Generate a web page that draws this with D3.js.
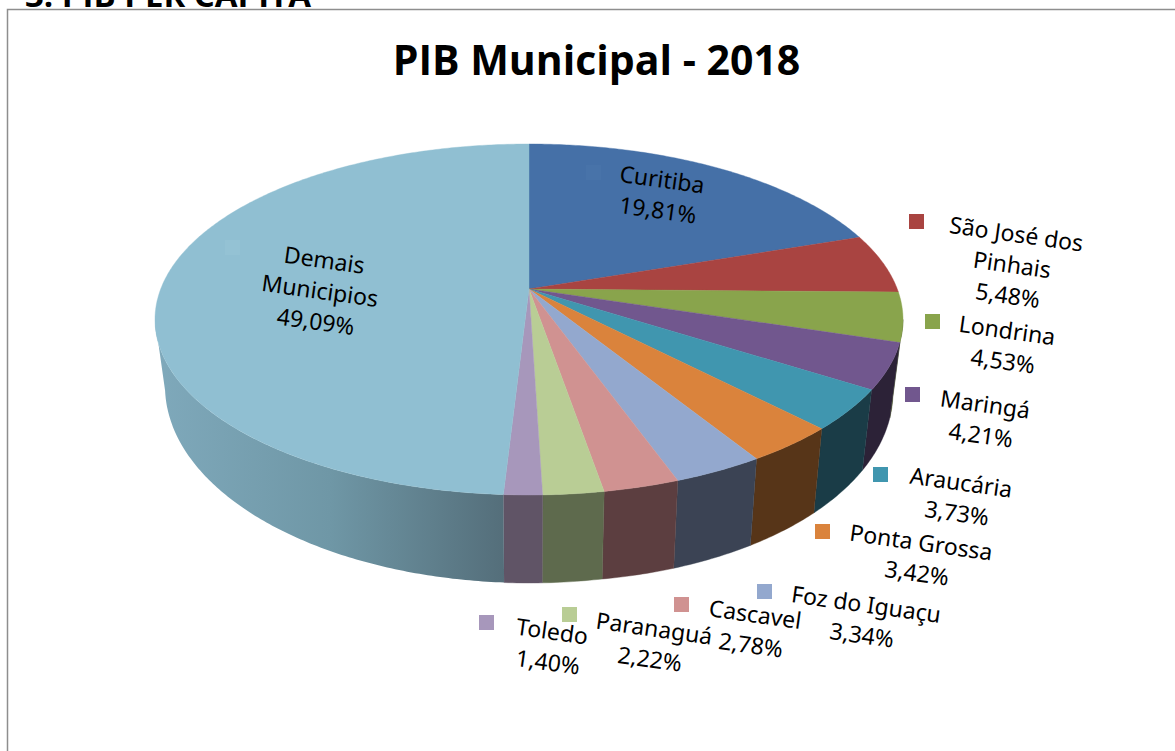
<!DOCTYPE html>
<html><head><meta charset="utf-8">
<script src="https://cdn.jsdelivr.net/npm/d3@7"></script>
<style>html,body{margin:0;padding:0;background:#fff;overflow:hidden}svg{display:block}</style>
</head><body><svg id="c" width="1175" height="751"></svg>
<script>
const categories = ["Curitiba","São José dos Pinhais","Londrina","Maringá","Araucária","Ponta Grossa","Foz do Iguaçu","Cascavel","Paranaguá","Toledo","Demais Municipios"];
const values = [19.81,5.48,4.53,4.21,3.73,3.42,3.34,2.78,2.22,1.40,49.09];
const labelLines = [["Curitiba"],["São José dos","Pinhais"],["Londrina"],["Maringá"],["Araucária"],["Ponta Grossa"],["Foz do Iguaçu"],["Cascavel"],["Paranaguá"],["Toledo"],["Demais","Municipios"]];
const topColors = ["#4570a7","#a94441","#89a44c","#71578e","#4096af","#da833c","#93a8ce","#d09291","#b9cd95","#a797bb","#90bfd2"];
const keyColors = ["#4873a9","#a94441","#89a44c","#71578e","#4096af","#da833c","#93a8ce","#d09291","#b9cd95","#a797bb","#94c2d4"];
const sideColors = ["#22384f","#552220","#445226","#2c2237","#1a3c47","#573518","#3b4354","#5c3e40","#5e6a4d","#605466","#6f95a5"];
const labelCenters = [[660,195],[1012,265],[1005,346],[983,420],[959,498],[919,558],[864,620],[753,630],[652,644],[550,647],[320,291]];
const keyBoxes = [[586,165],[909,214],[925,314],[905,387],[873,467],[815,524],[757,584],[674,597],[562,607],[479,615],[225,240]];

const svg = d3.select("#c");
const font = "'Noto Sans','Open Sans',sans-serif";
const defs = svg.append("defs");
const grad = defs.append("linearGradient").attr("id","demaisSide").attr("gradientUnits","userSpaceOnUse").attr("x1",155).attr("x2",505).attr("y1",0).attr("y2",0);
grad.append("stop").attr("offset",0).attr("stop-color","#7fa9bb");
grad.append("stop").attr("offset",0.5).attr("stop-color","#6f97a6");
grad.append("stop").attr("offset",1).attr("stop-color","#546e7a");

// clipped heading above the frame
svg.append("text").text("3. PIB PER CAPITA").attr("x",25).attr("y",6.5).attr("font-family","'Open Sans',sans-serif").attr("font-weight",700).attr("font-size",33).attr("fill","#000");
// frame
svg.append("path").attr("d","M7.5,751V9.5H1175").attr("fill","none").attr("stroke","#8e8e8e").attr("stroke-width",1.5);
svg.append("text").text("PIB Municipal - 2018").attr("x",596.5).attr("y",75).attr("text-anchor","middle").attr("font-family","'Open Sans',sans-serif").attr("font-weight",700).attr("font-size",41).attr("fill","#000");

// perspective disc projection
const p = 0.1738, B = 170.2, A = 368.3, cx = 529;
const botRx = 364, botCy = 386, botRy = 197;
const project = (t, y0, s) => { const u=Math.sin(t), v=-Math.cos(t), w=1-p*v; return [cx+s*A*u/w, y0+s*B*v/w]; };
const topFace = t => project(t,289,1);
const botFace = t => {
  const X = project(t,0,0.973)[0], k = Math.min(1,Math.abs(X-cx)/botRx);
  return [X, botCy + botRy*Math.sqrt(1-k*k) + Math.max(0,X-600)*0.02];
};
const arcPts = (f,a,b) => { const n=Math.max(2,Math.ceil(Math.abs(b-a)/0.01)); return d3.range(n+1).map(i=>f(a+(b-a)*i/n)); };

const arcs = d3.pie().sort(null).value(d=>d).startAngle(0).endAngle(2*Math.PI)(values);
const line = d3.line();
const visA = 100*Math.PI/180, visB = 260*Math.PI/180;

const sides = arcs.map((d,i)=>({i,a:Math.max(d.startAngle,visA),b:Math.min(d.endAngle,visB)})).filter(d=>d.b>d.a);
svg.append("g").selectAll("path").data(sides).join("path")
  .attr("d",d=>line(arcPts(topFace,d.a,d.b).concat(arcPts(botFace,d.b,d.a)))+"Z")
  .attr("fill",d=>d.i===10?"url(#demaisSide)":sideColors[d.i])
  .attr("stroke",d=>d.i===10?"none":sideColors[d.i]).attr("stroke-width",0.4);

// top face
svg.append("g").selectAll("path").data(arcs).join("path")
  .attr("d",(d,i)=>line([[cx,289]].concat(arcPts(topFace,d.startAngle,d.endAngle)))+"Z")
  .attr("fill",(d,i)=>topColors[i]).attr("stroke",(d,i)=>topColors[i]).attr("stroke-width",0.4);

// key squares
svg.append("g").selectAll("rect").data(keyBoxes).join("rect")
  .attr("x",d=>d[0]).attr("y",d=>d[1]).attr("width",15).attr("height",15).attr("fill",(d,i)=>keyColors[i]);

// labels
const fmt = v => v.toFixed(2).replace(".",",")+"%";
const lh = 31;
const lab = svg.append("g").selectAll("text").data(categories).join("text")
  .attr("transform",(d,i)=>`translate(${labelCenters[i][0]},${labelCenters[i][1]}) rotate(8)`)
  .attr("text-anchor","middle").attr("font-family",font).attr("font-size",23).attr("fill","#000");
lab.each(function(d,i){
  const ls = labelLines[i].concat([fmt(values[i])]);
  d3.select(this).selectAll("tspan").data(ls).join("tspan")
    .attr("x",0).attr("y",(l,j)=>(j-(ls.length-1)/2)*lh+8).text(l=>l);
});
</script></body></html>
